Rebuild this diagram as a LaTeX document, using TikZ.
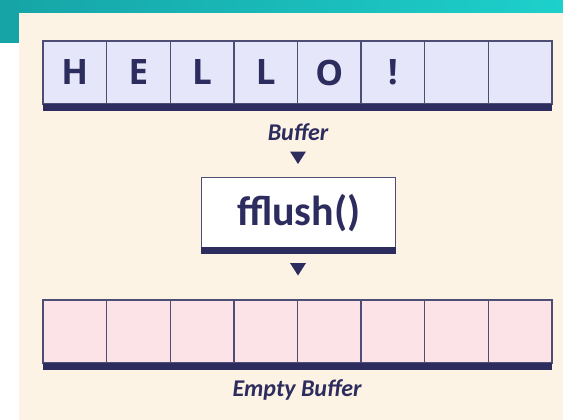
\documentclass[tikz,border=0pt]{standalone}
\usepackage{fontspec}
\setmainfont{Carlito}
\newfontfamily\letterfont{Open Sans}
\usetikzlibrary{calc}
\definecolor{cream}{HTML}{FDF3E4}
\definecolor{tealA}{HTML}{16A4A7}
\definecolor{tealB}{HTML}{1DD0CB}
\definecolor{navy}{HTML}{2D2C5E}
\definecolor{cellline}{HTML}{4E4E74}
\definecolor{lav}{HTML}{E6E6FA}
\definecolor{pinkc}{HTML}{FCE3E7}
\tikzset{
  cellbox/.style={draw=cellline, line width=1.3pt, minimum width=63.6pt, minimum height=63pt, inner sep=0pt, outer sep=0pt, anchor=north west, text=navy, font=\letterfont\bfseries\fontsize{35}{35}\selectfont},
  topcell/.style={cellbox, fill=lav},
  botcell/.style={cellbox, fill=pinkc},
  bar/.style={fill=navy},
  lbl/.style={text=navy, font=\bfseries\itshape\fontsize{24}{24}\selectfont, inner sep=0pt},
  tri/.style={fill=navy}
}
\begin{document}
\begin{tikzpicture}[x=1pt,y=-1pt]
\useasboundingbox (0,0) rectangle (563,420);
\fill[white] (0,0) rectangle (563,420);
\fill[cream] (19,12) rectangle (563,420);
\shade[left color=tealA, right color=tealB, middle color=tealA!50!tealB] (0,0) rectangle (563,12.5);
\fill[tealA] (0,0) rectangle (19,43);
% top buffer
\foreach \i/\t in {1/H,2/E,3/L,4/L,5/O,6/!,7/,8/} {
  \node[topcell] (t\i) at ({43+(\i-1)*63.625},41) {\t};
}
\fill[bar] (43,104) rectangle (552,111);
\node[lbl] (buf) at (298,132) {Buffer};
\coordinate (a1) at (298,151.5);
\fill[tri] ($(a1)+(-8,0)$) -- ($(a1)+(8,0)$) -- ($(a1)+(0,12.5)$) -- cycle;
% fflush box
\node[draw=cellline, line width=1.3pt, fill=white, minimum width=194pt, minimum height=71pt, inner sep=0pt, anchor=north west, text=navy, font=\bfseries\fontsize{42}{42}\selectfont] (ff) at (201,176.5) {fflush()};
\fill[bar] (200.5,247) rectangle (395.5,253.5);
\coordinate (a2) at (298,263);
\fill[tri] ($(a2)+(-8,0)$) -- ($(a2)+(8,0)$) -- ($(a2)+(0,12.5)$) -- cycle;
% bottom buffer
\foreach \i in {1,...,8} {
  \node[botcell] (b\i) at ({43+(\i-1)*63.625},300) {};
}
\fill[bar] (43,363) rectangle (552,370);
\node[lbl] (ebuf) at (297,390) {Empty Buffer};
\end{tikzpicture}
\end{document}
